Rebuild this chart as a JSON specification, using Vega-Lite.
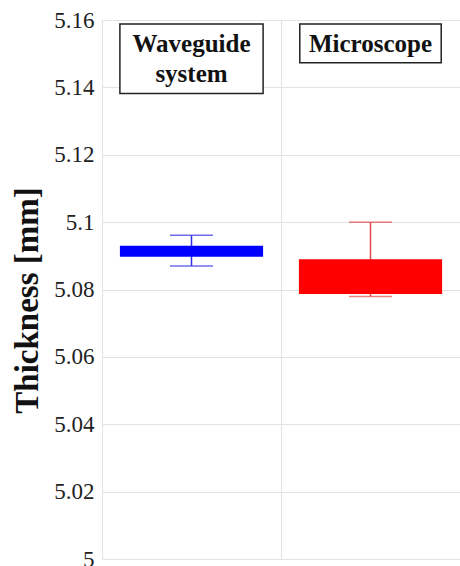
{
  "$schema": "https://vega.github.io/schema/vega-lite/v6.json",
  "autosize": {"type": "none"},
  "width": 358,
  "height": 539,
  "padding": {"left": 102, "top": 20, "right": 0, "bottom": 7},
  "background": "white",
  "config": {
    "view": {"stroke": null},
    "font": "Liberation Serif",
    "axis": {"gridColor": "#e2e2e2", "gridWidth": 1}
  },
  "datasets": {
    "stats": [
      {"group": "Waveguide system", "lower": 5.0870, "q1": 5.0897, "q3": 5.0930, "upper": 5.0961},
      {"group": "Microscope", "lower": 5.0779, "q1": 5.0787, "q3": 5.0890, "upper": 5.1000}
    ]
  },
  "encoding": {
    "x": {
      "field": "group",
      "type": "nominal",
      "scale": {"domain": ["Waveguide system", "Microscope"], "paddingInner": 0, "paddingOuter": 0},
      "axis": {"labels": false, "ticks": false, "domain": false, "title": null, "grid": true, "tickBand": "extent"}
    }
  },
  "layer": [
    {
      "data": {"name": "stats"},
      "mark": {"type": "rule", "strokeWidth": 1.5},
      "encoding": {
        "y": {
          "field": "lower",
          "type": "quantitative",
          "scale": {"domain": [5, 5.16], "nice": false, "zero": false},
          "axis": {
            "values": [5, 5.02, 5.04, 5.06, 5.08, 5.1, 5.12, 5.14, 5.16],
            "format": ".2~f",
            "domain": false,
            "ticks": false,
            "grid": true,
            "labelFont": "Liberation Serif",
            "labelFontSize": 23,
            "labelColor": "#222222",
            "labelPadding": 8,
            "title": "Thickness [mm]",
            "titleFont": "Liberation Serif",
            "titleFontSize": 33,
            "titleFontWeight": "bold",
            "titleColor": "#111111",
            "titleAngle": -90,
            "titleAlign": "center",
            "titleBaseline": "alphabetic",
            "titleX": -65,
            "titleY": 280
          }
        },
        "y2": {"field": "upper"},
        "color": {
          "field": "group",
          "type": "nominal",
          "scale": {"domain": ["Waveguide system", "Microscope"], "range": ["#2f2fe6", "#e24a4a"]},
          "legend": null
        }
      }
    },
    {
      "data": {"name": "stats"},
      "mark": {"type": "tick", "size": 43, "thickness": 1.5, "orient": "horizontal"},
      "encoding": {
        "y": {"field": "lower", "type": "quantitative"},
        "color": {"field": "group", "type": "nominal", "legend": null}
      }
    },
    {
      "data": {"name": "stats"},
      "mark": {"type": "tick", "size": 43, "thickness": 1.5, "orient": "horizontal"},
      "encoding": {
        "y": {"field": "upper", "type": "quantitative"},
        "color": {"field": "group", "type": "nominal", "legend": null}
      }
    },
    {
      "data": {"name": "stats"},
      "mark": {"type": "bar", "width": {"band": 0.8}},
      "encoding": {
        "y": {"field": "q1", "type": "quantitative"},
        "y2": {"field": "q3"},
        "fill": {
          "field": "group",
          "type": "nominal",
          "scale": {"domain": ["Waveguide system", "Microscope"], "range": ["#0000ff", "#ff0000"]},
          "legend": null
        }
      }
    },
    {
      "data": {"values": [{"group": "Waveguide system"}]},
      "mark": {"type": "bar", "width": {"band": 0.8}, "fill": "white", "stroke": "#222222", "strokeWidth": 1.5},
      "encoding": {
        "y": {"datum": 5.1588, "type": "quantitative"},
        "y2": {"datum": 5.1382}
      }
    },
    {
      "data": {"values": [{"group": "Microscope"}]},
      "mark": {"type": "bar", "width": {"band": 0.79}, "fill": "white", "stroke": "#222222", "strokeWidth": 1.5},
      "encoding": {
        "y": {"datum": 5.1588, "type": "quantitative"},
        "y2": {"datum": 5.1473}
      }
    },
    {
      "data": {"values": [
        {"group": "Waveguide system", "label": "Waveguide\nsystem"},
        {"group": "Microscope", "label": "Microscope"}
      ]},
      "mark": {"type": "text", "font": "Liberation Serif", "fontSize": 25, "fontWeight": "bold", "color": "#111111", "baseline": "alphabetic", "align": "center", "lineBreak": "\n", "lineHeight": 30},
      "encoding": {
        "y": {"datum": 5.1504, "type": "quantitative"},
        "text": {"field": "label"}
      }
    }
  ]
}
